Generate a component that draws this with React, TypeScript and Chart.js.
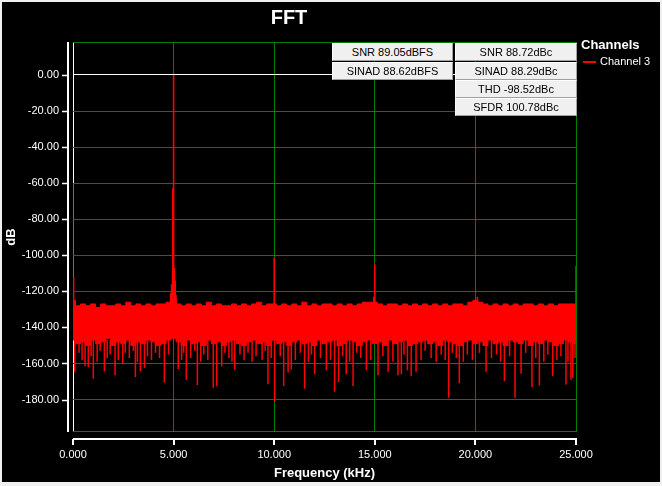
import React, { useEffect, useRef } from "react"
import { Chart, registerables } from "chart.js"

Chart.register(...registerables)

// spectrum (dB)
const STEP_KHZ = 0.25
// top of the noise floor, one value per 0.25 kHz from 0 to 25 kHz
const noiseTop = [
  -125, -128, -127, -128, -127, -129, -127, -128, -128, -127,
  -128, -126, -128, -127, -128, -127, -128, -127, -127, -126,
  -125, -127, -128, -127, -128, -127, -128, -126, -128, -127,
  -128, -128, -127, -128, -127, -128, -127, -126, -128, -127,
  -127, -128, -127, -128, -127, -128, -126, -128, -127, -128,
  -127, -127, -128, -127, -128, -127, -128, -127, -126, -126,
  -126, -127, -128, -127, -127, -128, -127, -128, -127, -128,
  -127, -128, -127, -128, -127, -128, -127, -127, -128, -126,
  -125, -126, -127, -128, -127, -128, -127, -128, -127, -128,
  -127, -127, -128, -127, -128, -127, -128, -127, -127, -127,
  -127,
]
// bottom of the solid part of the noise floor
const noiseBottom = [
  -147, -149, -148, -150, -147, -149, -148, -146, -150, -148,
  -149, -147, -150, -148, -149, -147, -148, -150, -149, -147,
  -146, -148, -150, -147, -149, -148, -150, -147, -149, -148,
  -150, -148, -147, -149, -150, -148, -147, -149, -148, -150,
  -147, -149, -148, -150, -148, -147, -149, -148, -150, -147,
  -149, -148, -147, -150, -149, -147, -148, -150, -148, -147,
  -149, -148, -150, -147, -149, -148, -147, -150, -149, -148,
  -147, -149, -148, -150, -147, -148, -149, -150, -148, -147,
  -149, -148, -150, -147, -149, -148, -150, -147, -148, -149,
  -147, -150, -148, -149, -147, -148, -150, -149, -147, -148,
  -149,
]
// bins rising above the floor [kHz, dB]
const peaks: [number, number][] = [
  [0.0, -60], [0.03, -112], [4.85, -121], [4.9, -116], [4.95, -109],
  [4.96, -63], [5.0, 0], [5.04, -107], [5.08, -114], [5.12, -122],
  [10.0, -101.5], [14.95, -123], [15.0, -105], [20.1, -123], [25.0, -106],
]
// bins falling below the floor [kHz, dB]
const dips: [number, number][] = [
  [0.08, -164.8], [0.3, -154], [0.45, -158], [0.6, -161.5], [0.76, -162],
  [0.9, -156], [1.01, -168.5], [1.2, -159], [1.35, -153], [1.56, -164.5],
  [1.7, -157], [1.85, -155], [2.09, -166.5], [2.25, -158], [2.47, -160],
  [2.6, -154], [2.8, -157], [3.0, -153], [3.1, -167.5], [3.2, -159],
  [3.35, -164.5], [3.55, -162.5], [3.7, -156], [3.9, -158], [4.1, -154],
  [4.3, -157], [4.54, -170.5], [4.75, -155], [5.23, -163], [5.4, -158],
  [5.5, -154], [5.63, -169], [5.85, -157], [6.05, -153], [6.18, -172],
  [6.35, -159], [6.5, -155], [6.7, -158], [6.97, -173.5], [7.14, -172.6],
  [7.39, -161.5], [7.55, -154], [7.75, -157], [7.9, -159], [8.04, -163.5],
  [8.3, -155], [8.5, -158], [8.7, -154], [8.9, -159], [9.1, -156],
  [9.4, -158], [9.55, -153], [9.69, -171.5], [9.85, -157], [10.02, -181],
  [10.3, -156], [10.47, -172.5], [10.69, -165], [10.85, -163.3], [11.05, -158],
  [11.3, -154], [11.51, -174], [11.7, -159], [11.85, -155], [12.01, -166],
  [12.3, -157], [12.59, -163.7], [12.8, -158], [13.0, -175.7], [13.2, -170.2],
  [13.4, -156], [13.58, -166], [13.75, -159], [13.92, -172.5], [14.1, -154],
  [14.3, -157], [14.58, -163.7], [14.8, -158], [15.16, -166.5], [15.4, -156],
  [15.66, -164.6], [15.9, -159], [16.15, -166.5], [16.32, -166], [16.45, -155],
  [16.62, -163.8], [16.81, -167], [17.05, -164.6], [17.3, -158], [17.5, -153],
  [17.8, -157], [18.05, -159], [18.3, -155], [18.5, -158], [18.67, -179],
  [18.85, -154], [19.05, -157], [19.2, -171], [19.4, -159], [19.6, -155],
  [19.85, -158], [20.2, -154], [20.53, -164.6], [20.8, -157], [21.05, -155],
  [21.25, -159], [21.44, -169.8], [21.7, -156], [21.97, -179], [22.27, -165.7],
  [22.5, -154], [22.81, -173], [23.0, -157], [23.18, -172.2], [23.4, -159],
  [23.6, -155], [23.84, -167], [24.05, -158], [24.25, -156], [24.5, -171.7],
  [24.6, -159], [24.75, -169], [24.84, -168], [24.95, -157],
]

const xTicks = [0, 5, 10, 15, 20, 25]
const yTicks = [0, -20, -40, -60, -80, -100, -120, -140, -160, -180]
const statsDbfs = ["SNR 89.05dBFS", "SINAD 88.62dBFS"]
const statsDbc = ["SNR 88.72dBc", "SINAD 88.29dBc", "THD -98.52dBc", "SFDR 100.78dBc"]
const channelName = "Channel 3"

const RED = "#ff0000"
const GREEN = "#008000"
const WHITE = "#ffffff"
const FONT = "'Liberation Sans', Arial, sans-serif"

// draws the floating axis lines and the plot frame
const axisFrame = {
  id: "axisFrame",
  beforeDatasetsDraw(chart: any) {
    const { ctx, chartArea: a } = chart
    ctx.save()
    ctx.strokeStyle = GREEN
    ctx.lineWidth = 1
    ctx.beginPath()
    ctx.moveTo(a.left, Math.round(a.top) + 0.5)
    ctx.lineTo(a.right, Math.round(a.top) + 0.5)
    ctx.moveTo(a.left, Math.round(a.bottom) - 0.5)
    ctx.lineTo(a.right, Math.round(a.bottom) - 0.5)
    ctx.stroke()
    ctx.restore()
  },
  afterDraw(chart: any) {
    const { ctx, chartArea: a, scales } = chart
    ctx.save()
    ctx.strokeStyle = WHITE
    ctx.lineWidth = 2
    const ax = Math.round(a.left) - 5
    const ay = Math.round(a.bottom) + 7
    ctx.beginPath()
    ctx.moveTo(ax, a.top)
    ctx.lineTo(ax, a.bottom)
    ctx.moveTo(a.left, ay)
    ctx.lineTo(a.right + 1, ay)
    scales.x.ticks.forEach((t: any) => {
      const px = Math.round(scales.x.getPixelForValue(t.value))
      ctx.moveTo(px, ay)
      ctx.lineTo(px, ay + 6)
    })
    ctx.stroke()
    ctx.lineWidth = 1.5
    ctx.beginPath()
    scales.y.ticks.forEach((t: any) => {
      const py = Math.round(scales.y.getPixelForValue(t.value)) + 0.5
      ctx.moveTo(ax - 6, py)
      ctx.lineTo(ax, py)
    })
    ctx.stroke()
    ctx.restore()
  },
}

const gridColor = (ctx: any) => (ctx.tick && ctx.tick.value === 0 ? WHITE : GREEN)

function spikes(list: [number, number][], base: number) {
  const pts: { x: number; y: number | null }[] = []
  list.forEach(([f, v]) => {
    pts.push({ x: f, y: base }, { x: f, y: v }, { x: f, y: null })
  })
  return pts
}

function FftChart() {
  const canvasRef = useRef<HTMLCanvasElement>(null)
  const chartRef = useRef<Chart | null>(null)

  useEffect(() => {
    if (!canvasRef.current) return
    chartRef.current?.destroy()

    const top = noiseTop.map((v, i) => ({ x: i * STEP_KHZ, y: v }))
    const bottom = noiseBottom.map((v, i) => ({ x: i * STEP_KHZ, y: v }))

    chartRef.current = new Chart(canvasRef.current, {
      type: "line",
      data: {
        datasets: [
          {
            label: channelName,
            data: top,
            borderColor: RED,
            borderWidth: 1,
            pointRadius: 0,
            stepped: "middle",
            fill: false,
          },
          {
            label: channelName + " floor",
            data: bottom,
            borderColor: RED,
            backgroundColor: RED,
            borderWidth: 1,
            pointRadius: 0,
            stepped: "middle",
            fill: "-1",
          },
          {
            label: channelName + " peaks",
            data: spikes(peaks, -128),
            borderColor: RED,
            borderWidth: 1.6,
            pointRadius: 0,
            spanGaps: false,
          },
          {
            label: channelName + " dips",
            data: spikes(dips, -147),
            borderColor: RED,
            borderWidth: 1.5,
            pointRadius: 0,
            spanGaps: false,
          },
        ],
      },
      options: {
        animation: false,
        responsive: true,
        maintainAspectRatio: false,
        layout: { padding: { left: 0, right: 84, top: 0, bottom: 0 } },
        plugins: {
          legend: { display: false },
          tooltip: { enabled: false },
          title: {
            display: true,
            text: "FFT",
            color: WHITE,
            font: { family: FONT, size: 20, weight: "bold" },
            padding: { top: 4, bottom: 12 },
          },
        },
        scales: {
          x: {
            type: "linear",
            min: 0,
            max: 25,
            afterBuildTicks: (s: any) => {
              s.ticks = xTicks.map((v) => ({ value: v }))
            },
            afterFit: (s: any) => {
              s.height = 50
            },
            ticks: {
              color: WHITE,
              font: { family: FONT, size: 11 },
              padding: 16,
              maxRotation: 0,
              autoSkip: false,
              callback: (v) => Number(v).toFixed(3),
            },
            grid: { color: gridColor, lineWidth: 1, drawTicks: false },
            border: { display: false },
            title: {
              display: true,
              text: "Frequency (kHz)",
              color: WHITE,
              font: { family: FONT, size: 13, weight: "bold" },
              padding: { top: 0, bottom: 1 },
            },
          },
          y: {
            type: "linear",
            min: -198,
            max: 18.3,
            afterBuildTicks: (s: any) => {
              s.ticks = yTicks.map((v) => ({ value: v }))
            },
            afterFit: (s: any) => {
              s.width = 71
            },
            ticks: {
              color: WHITE,
              font: { family: FONT, size: 11 },
              padding: 14,
              autoSkip: false,
              callback: (v) => Number(v).toFixed(2),
            },
            grid: { color: gridColor, lineWidth: 1, drawTicks: false },
            border: { display: false },
            title: {
              display: true,
              text: "dB",
              color: WHITE,
              font: { family: FONT, size: 13, weight: "bold" },
              padding: { top: 2, bottom: 0 },
            },
          },
        },
      },
      plugins: [axisFrame],
    })

    return () => {
      chartRef.current?.destroy()
      chartRef.current = null
    }
  }, [])

  return <canvas ref={canvasRef} style={{ display: "block" }} />
}

const boxStyle: React.CSSProperties = {
  position: "absolute",
  height: 18,
  boxSizing: "border-box",
  background: "#f0f0f0",
  borderTop: "1px solid #ffffff",
  borderLeft: "1px solid #ffffff",
  borderRight: "1px solid #a0a0a0",
  borderBottom: "1px solid #a0a0a0",
  color: "#000",
  font: `11px ${FONT}`,
  lineHeight: "16px",
  textAlign: "center",
  whiteSpace: "nowrap",
}

export default function App() {
  useEffect(() => {
    document.body.style.margin = "0"
    document.body.style.background = "#f0f0f0"
  }, [])

  return (
    <div style={{ position: "relative", width: 658, height: 480, margin: "2px 0 0 2px", background: "#000" }}>
      <FftChart />
      {statsDbfs.map((s, i) => (
        <div key={s} style={{ ...boxStyle, left: 330, width: 121, top: 41 + i * 19 }}>
          {s}
        </div>
      ))}
      {statsDbc.map((s, i) => (
        <div key={s} style={{ ...boxStyle, left: 453, width: 122, top: [41, 60, 78, 96][i] }}>
          {s}
        </div>
      ))}
      <div style={{ position: "absolute", left: 579, top: 35, color: WHITE, font: `bold 13px ${FONT}`, lineHeight: "16px" }}>
        Channels
      </div>
      <div style={{ position: "absolute", left: 581, top: 59, width: 13, height: 2, background: RED }} />
      <div style={{ position: "absolute", left: 598, top: 52, color: WHITE, font: `11px ${FONT}`, lineHeight: "15px" }}>
        {channelName}
      </div>
    </div>
  )
}
